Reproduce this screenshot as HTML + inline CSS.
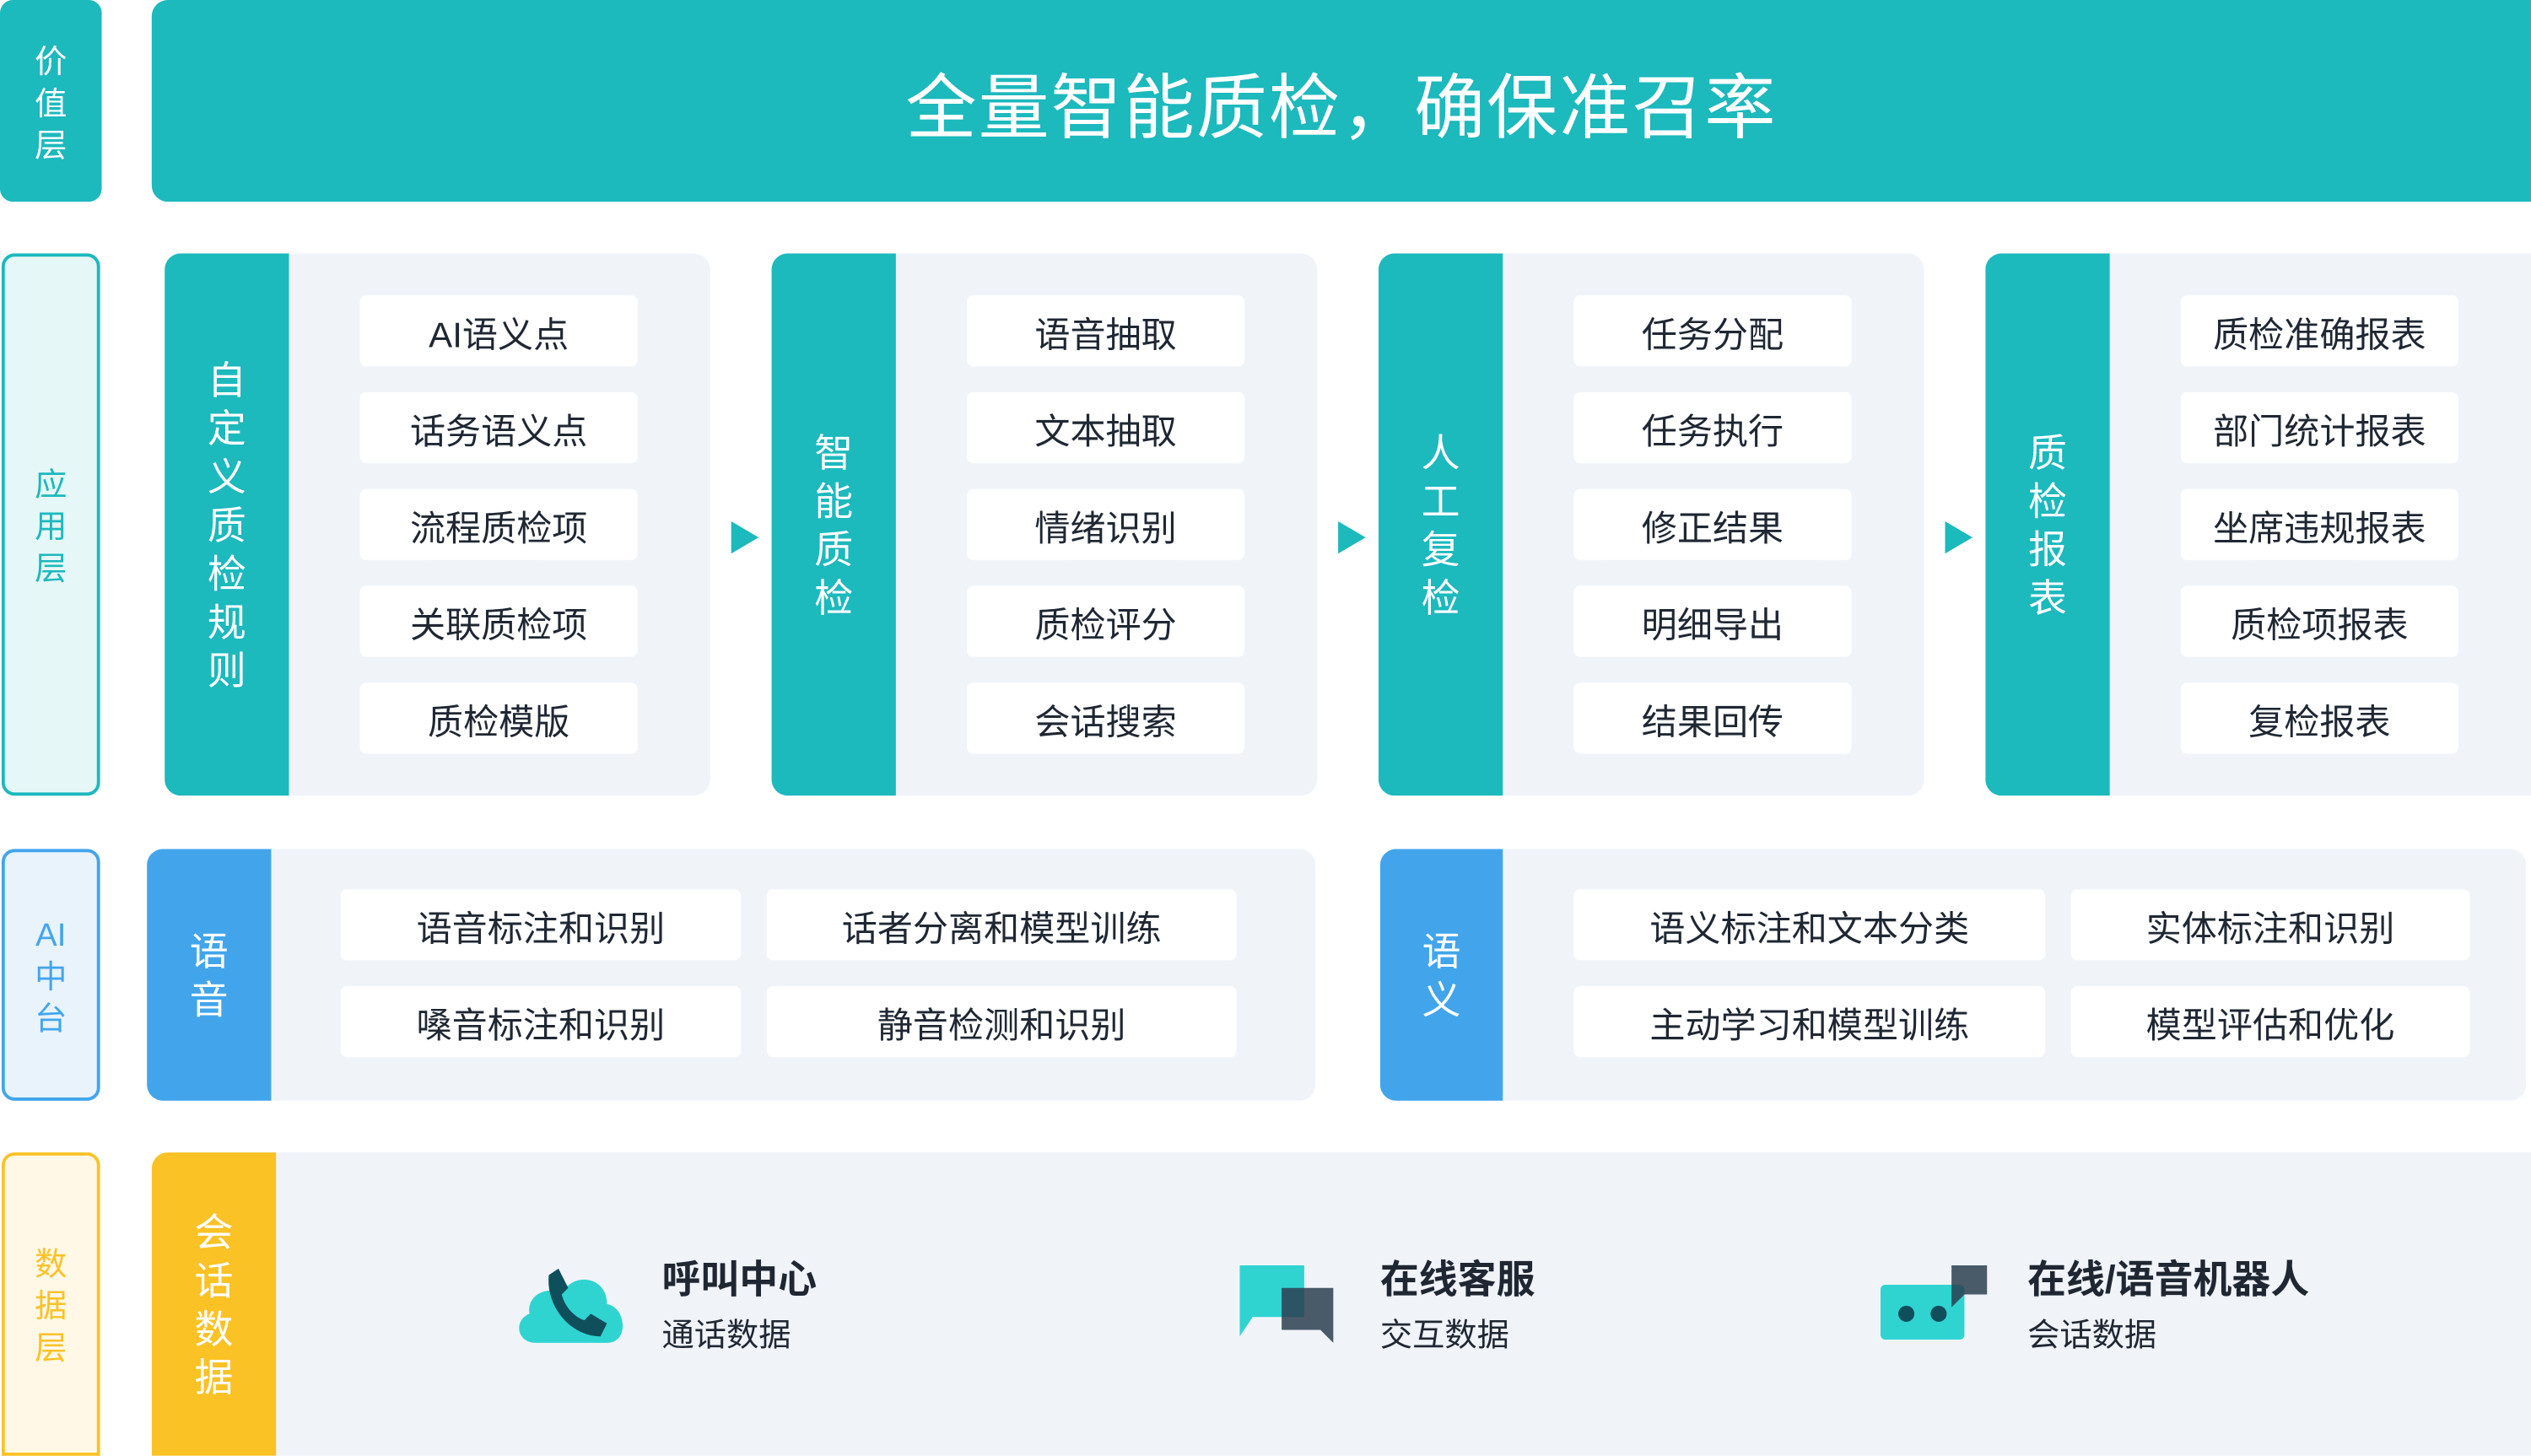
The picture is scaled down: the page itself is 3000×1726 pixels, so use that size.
<!DOCTYPE html>
<html><head><meta charset="utf-8"><style>
html,body{margin:0;padding:0;background:#fff;}
body{width:3000px;height:1725px;overflow:hidden;}
#w{position:absolute;left:0;top:0;width:1568px;height:902px;transform:scale(1.91327);transform-origin:0 0;font-family:"Liberation Sans","Noto Sans CJK SC",sans-serif;color:#1f2733;}
.a{position:absolute;box-sizing:border-box;}
.lab{border-radius:8px;display:flex;align-items:center;justify-content:center;text-align:center;font-size:20px;line-height:26px;}
.vt{display:flex;align-items:center;justify-content:center;text-align:center;color:#fff;font-size:24px;line-height:30px;padding-top:4px;}
.pan{background:#f0f4f9;border-radius:10px;overflow:hidden;}
.it{background:#fff;border-radius:4px;height:44px;display:flex;align-items:center;justify-content:center;font-size:22px;padding-top:2px;}
.arr{width:0;height:0;border-top:10px solid transparent;border-bottom:10px solid transparent;border-left:17px solid #1cb9bd;}
.t1{font-size:24px;font-weight:bold;}
.t2{font-size:20px;}
</style></head><body><div id="w">
<div class="a lab" style="left:0;top:0;width:63px;height:125px;background:#1cb9bd;color:#fff;padding-top:4px;">价<br>值<br>层</div>
<div class="a" style="left:94px;top:0;width:1474px;height:125px;background:#1cb9bd;border-radius:10px 0 0 10px;color:#fff;font-size:44px;display:flex;align-items:center;justify-content:center;letter-spacing:1px;">全量智能质检，确保准召率</div>

<div class="a lab" style="left:1px;top:157px;width:61px;height:336px;background:#e6f7f7;border:2px solid #1cb9bd;color:#1cb9bd;padding-top:4px;">应<br>用<br>层</div>
<div class="a lab" style="left:1px;top:526px;width:61px;height:156px;background:#e8f3fc;border:2px solid #42a5ec;color:#42a5ec;padding-top:4px;">AI<br>中<br>台</div>
<div class="a lab" style="left:1px;top:714px;width:61px;height:188px;background:#fff8e6;border:2px solid #fbc226;color:#fbc226;border-bottom-left-radius:0;border-bottom-right-radius:0;padding-top:4px;">数<br>据<br>层</div>

<div class="a pan" style="left:102px;top:157px;width:338px;height:336px;">
 <div class="a vt" style="left:0;top:0;width:77px;height:336px;background:#1cb9bd;">自<br>定<br>义<br>质<br>检<br>规<br>则</div>
 <div class="a it" style="left:121px;top:26px;width:172px;">AI语义点</div>
 <div class="a it" style="left:121px;top:86px;width:172px;">话务语义点</div>
 <div class="a it" style="left:121px;top:146px;width:172px;">流程质检项</div>
 <div class="a it" style="left:121px;top:206px;width:172px;">关联质检项</div>
 <div class="a it" style="left:121px;top:266px;width:172px;">质检模版</div>
</div>
<div class="a arr" style="left:453px;top:323px;"></div>
<div class="a pan" style="left:478px;top:157px;width:338px;height:336px;">
 <div class="a vt" style="left:0;top:0;width:77px;height:336px;background:#1cb9bd;">智<br>能<br>质<br>检</div>
 <div class="a it" style="left:121px;top:26px;width:172px;">语音抽取</div>
 <div class="a it" style="left:121px;top:86px;width:172px;">文本抽取</div>
 <div class="a it" style="left:121px;top:146px;width:172px;">情绪识别</div>
 <div class="a it" style="left:121px;top:206px;width:172px;">质检评分</div>
 <div class="a it" style="left:121px;top:266px;width:172px;">会话搜索</div>
</div>
<div class="a arr" style="left:829px;top:323px;"></div>
<div class="a pan" style="left:854px;top:157px;width:338px;height:336px;">
 <div class="a vt" style="left:0;top:0;width:77px;height:336px;background:#1cb9bd;">人<br>工<br>复<br>检</div>
 <div class="a it" style="left:121px;top:26px;width:172px;">任务分配</div>
 <div class="a it" style="left:121px;top:86px;width:172px;">任务执行</div>
 <div class="a it" style="left:121px;top:146px;width:172px;">修正结果</div>
 <div class="a it" style="left:121px;top:206px;width:172px;">明细导出</div>
 <div class="a it" style="left:121px;top:266px;width:172px;">结果回传</div>
</div>
<div class="a arr" style="left:1205px;top:323px;"></div>
<div class="a pan" style="left:1230px;top:157px;width:338px;height:336px;border-radius:10px 0 0 10px;">
 <div class="a vt" style="left:0;top:0;width:77px;height:336px;background:#1cb9bd;">质<br>检<br>报<br>表</div>
 <div class="a it" style="left:121px;top:26px;width:172px;">质检准确报表</div>
 <div class="a it" style="left:121px;top:86px;width:172px;">部门统计报表</div>
 <div class="a it" style="left:121px;top:146px;width:172px;">坐席违规报表</div>
 <div class="a it" style="left:121px;top:206px;width:172px;">质检项报表</div>
 <div class="a it" style="left:121px;top:266px;width:172px;">复检报表</div>
</div>

<div class="a pan" style="left:91px;top:526px;width:724px;height:156px;">
 <div class="a vt" style="left:0;top:0;width:77px;height:156px;background:#42a5ec;">语<br>音</div>
 <div class="a it" style="left:120px;top:25px;width:248px;">语音标注和识别</div>
 <div class="a it" style="left:384px;top:25px;width:291px;">话者分离和模型训练</div>
 <div class="a it" style="left:120px;top:85px;width:248px;">嗓音标注和识别</div>
 <div class="a it" style="left:384px;top:85px;width:291px;">静音检测和识别</div>
</div>
<div class="a pan" style="left:855px;top:526px;width:710px;height:156px;">
 <div class="a vt" style="left:0;top:0;width:76px;height:156px;background:#42a5ec;">语<br>义</div>
 <div class="a it" style="left:120px;top:25px;width:292px;">语义标注和文本分类</div>
 <div class="a it" style="left:428px;top:25px;width:247px;">实体标注和识别</div>
 <div class="a it" style="left:120px;top:85px;width:292px;">主动学习和模型训练</div>
 <div class="a it" style="left:428px;top:85px;width:247px;">模型评估和优化</div>
</div>

<div class="a pan" style="left:94px;top:714px;width:1474px;height:188px;border-radius:10px 0 0 0;">
 <div class="a vt" style="left:0;top:0;width:77px;height:188px;background:#fbc226;">会<br>话<br>数<br>据</div>
</div>
<svg class="a" style="left:318px;top:782px;" width="72" height="54" viewBox="0 0 72 54">
 <path d="M14 50 C2 50 0 36 10 32 C8 20 22 14 30 20 C36 6 58 8 58 26 C70 28 72 50 58 50 Z" fill="#2fd4d1"/>
 <path d="M22 8 L28 4 L34 16 L30 20 C32 28 38 34 44 36 L48 32 L58 38 L54 46 C36 46 20 28 22 8 Z" fill="#0f4f5c"/>
</svg>
<div class="a t1" style="left:410px;top:773px;">呼叫中心</div>
<div class="a t2" style="left:410px;top:811px;">通话数据</div>
<svg class="a" style="left:768px;top:782px;" width="62" height="50" viewBox="0 0 62 50">
 <path d="M0 2 H40 V34 H8 L0 46 Z" fill="#2fd4d1"/>
 <path d="M26 16 H58 V44 L58 50 L50 42 H26 Z" fill="#2c3e50" opacity="0.85"/>
</svg>
<div class="a t1" style="left:855px;top:773px;">在线客服</div>
<div class="a t2" style="left:855px;top:811px;">交互数据</div>
<svg class="a" style="left:1165px;top:784px;" width="68" height="48" viewBox="0 0 68 48">
 <rect x="0" y="12" width="52" height="34" rx="3" fill="#2fd4d1"/>
 <path d="M44 0 H66 V18 H52 L44 26 Z" fill="#2c3e50" opacity="0.85"/>
 <circle cx="16" cy="30" r="5" fill="#0f4f5c"/><circle cx="36" cy="30" r="5" fill="#0f4f5c"/>
</svg>
<div class="a t1" style="left:1256px;top:773px;">在线/语音机器人</div>
<div class="a t2" style="left:1256px;top:811px;">会话数据</div>
</div></body></html>
